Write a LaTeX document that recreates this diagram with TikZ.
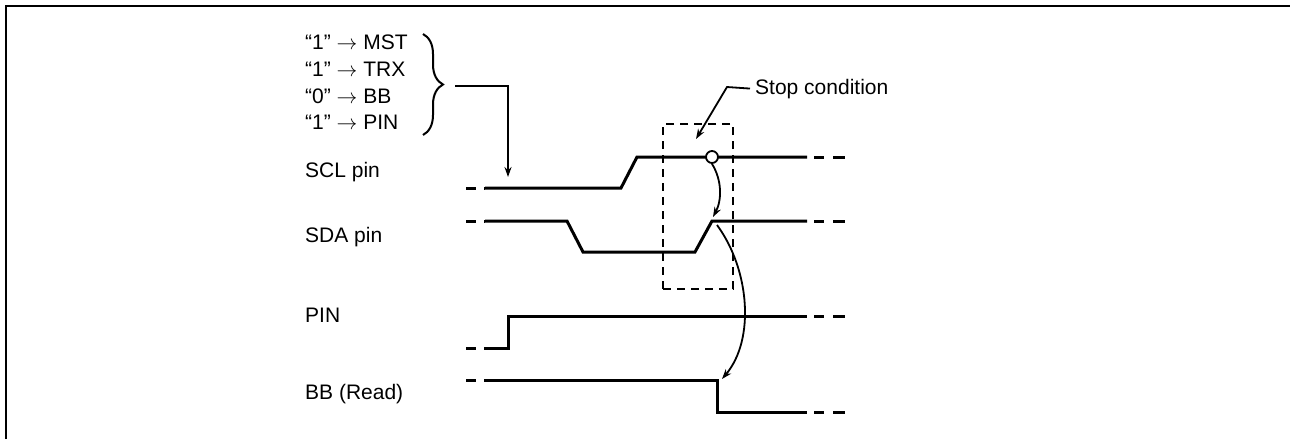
\documentclass[tikz,border=0pt]{standalone}
\usepackage{fontspec}
\setmainfont{Liberation Sans}
\usetikzlibrary{arrows.meta,decorations.pathreplacing}
\begin{document}
\begin{tikzpicture}[x=1pt,y=-1pt,
  lbl/.style={anchor=base west,inner sep=0pt,font=\fontsize{21}{26}\selectfont},
  sig/.style={line width=3pt,line join=miter},
  tailL/.style={line width=3pt,dash pattern=on 10pt off 8pt},
  tailR/.style={line width=3pt,dash pattern=on 10pt off 9pt on 12pt},
  conn/.style={line width=1.8pt,-{Stealth[length=10pt,width=7pt]}},
  frame/.style={line width=2.2pt}]
\useasboundingbox (0,0) rectangle (1290,439);
\draw[frame] (6,439) -- (6,6) -- (1290,6);
% bracket labels
\node[lbl] (l1) at (305,49) {“1” $\rightarrow$ MST};
\node[lbl] (l2) at (305,76) {“1” $\rightarrow$ TRX};
\node[lbl] (l3) at (305,103) {“0” $\rightarrow$ BB};
\node[lbl] (l4) at (305,129) {“1” $\rightarrow$ PIN};
\draw[line width=2pt,decorate,decoration={brace,amplitude=20pt}] (423,34) -- (423,135);
\coordinate (brtip) at (455,86);
% signal labels
\node[lbl] (scl) at (305,177) {SCL pin};
\node[lbl] (sda) at (305,242) {SDA pin};
\node[lbl] (pin) at (305,322) {PIN};
\node[lbl] (bb) at (305,399) {BB (Read)};
\node[lbl] (stop) at (755,94) {Stop condition};
% SCL
\draw[tailL] (466,188) -- (485,188);
\draw[sig] (485,188) -- (621,188) -- (637,157) -- (807,157);
\draw[tailR] (814,157) -- (845,157);
% SDA
\draw[tailL] (466,221) -- (485,221);
\draw[sig] (485,221) -- (567,221) -- (583,252) -- (695,252) -- (712,221) -- (807,221);
\draw[tailR] (814,221) -- (845,221);
% PIN
\draw[tailL] (466,348) -- (485,348);
\draw[sig] (485,348) -- (508,348) -- (508,316) -- (807,316);
\draw[tailR] (814,316) -- (845,316);
% BB
\draw[tailL] (466,380) -- (485,380);
\draw[sig] (485,380) -- (717,380) -- (717,412) -- (807,412);
\draw[tailR] (814,412) -- (845,412);
% stop box
\node[draw,line width=1.8pt,dash pattern=on 8pt off 6pt,minimum width=70pt,minimum height=165pt,inner sep=0pt] (box) at (698,206.5) {};
\node[draw,circle,line width=1.8pt,minimum size=12pt,inner sep=0pt,fill=white] (circ) at (712,157) {};
\coordinate (sdaup) at (713,217);
\coordinate (sdatop) at (717,225);
\coordinate (bbfall) at (722,379);
\coordinate (sclin) at (508,177);
\coordinate (boxin) at (696,139);
% connectors
\draw[conn] (brtip) -- (508,86) -- (sclin);
\draw[conn] (stop.west) ++(-5pt,0) -- (727,87) -- (boxin);
\draw[conn] (circ.south) .. controls (722,180) and (722,200) .. (sdaup);
\draw[conn] (sdatop) .. controls (750,270) and (755,340) .. (bbfall);
\end{tikzpicture}
\end{document}
